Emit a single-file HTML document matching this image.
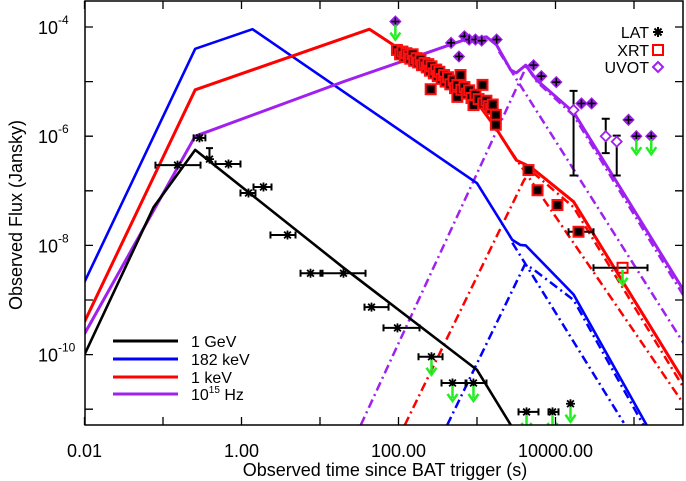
<!DOCTYPE html>
<html><head><meta charset="utf-8"><style>
html,body{margin:0;padding:0;background:#fff;}
svg{display:block;font-family:"Liberation Sans",sans-serif;}
</style></head><body>
<svg id="chart" width="686" height="481" viewBox="0 0 686 481" xmlns="http://www.w3.org/2000/svg">
<g id="plot"></g>
</svg>
<script>
// ---- data (log10 time, log10 flux) ----
const xTickVals = [-2, 0, 2, 4];
const xTickLabels = ["0.01", "1.00", "100.00", "10000.00"];
const yTickVals = [-4, -6, -8, -10];
const yTickLabels = ["-4", "-6", "-8", "-10"];

const curveBlack = [[-2,-10],[-1.12,-7.30],[-0.59,-6.25],[1.30,-8.41],[3.0,-10.28],[3.43,-11.29]];
const curveBlue = [[-2,-8.67],[-0.59,-4.40],[0.14,-4.04],[3.0,-6.86],[3.45,-7.90],[3.55,-7.99],[3.62,-8.0],[4.23,-8.9],[5.16,-11.29]];
const curveRed = [[-2,-9.40],[-0.59,-5.15],[1.63,-4.04],[2.03,-4.42],[2.54,-4.88],[2.98,-5.34],[3.24,-5.85],[3.50,-6.44],[3.68,-6.56],[4.23,-7.2],[5.63,-10.47]];
const curvePurple = [[-2,-9.62],[-0.59,-6.0],[1.30,-5.0],[2.83,-4.24],[3.12,-4.18],[3.25,-4.33],[3.43,-4.79],[3.50,-4.84],[3.62,-4.70],[3.76,-4.97],[4.23,-5.56],[5.63,-8.82]];

const ddPurple1 = [[3.28,-4.45],[5.63,-9.79]];
const ddPurple2 = [[1.52,-11.29],[3.63,-4.72],[3.76,-5.0],[4.23,-5.62],[5.63,-8.92]];
const ddRed1 = [[3.30,-6.0],[5.63,-10.9]];
const ddRed2 = [[2.08,-11.29],[3.60,-6.80],[3.70,-6.65],[4.23,-7.3],[5.63,-10.6]];
const ddBlue1 = [[3.45,-7.95],[4.87,-11.25]];
const ddBlue2 = [[2.62,-11.29],[3.61,-8.35],[3.70,-8.42],[4.23,-9.0],[5.12,-11.29]];

const latT = [-0.535,-0.815,-0.408,-0.166,0.089,0.280,0.586,0.879,1.299,1.656,1.987,2.420,2.688,2.955,3.631,3.962,4.191];
const latF = [-6.03,-6.53,-6.42,-6.51,-7.04,-6.93,-7.81,-8.51,-8.51,-9.13,-9.51,-10.04,-10.52,-10.52,-11.05,-11.05,-10.90];
const latLo = [-0.61,-1.096,-0.408,-0.331,-0.013,0.153,0.369,0.752,1.006,1.567,1.809,2.255,2.548,2.854,3.529,3.911,4.191];
const latHi = [-0.46,-0.522,-0.408,-0.013,0.178,0.382,0.688,1.032,1.580,1.873,2.268,2.561,2.866,3.121,3.783,4.038,4.191];
const latUL = [0,0,0,0,0,0,0,0,0,0,0,1,1,1,1,1,1];

const xrtT = [1.98,2.02,2.05,2.08,2.10,2.13,2.15,2.18,2.20,2.23,2.25,2.28,2.30,2.33,2.36,2.38,2.40,2.41,2.42,2.45,2.48,2.50,2.52,2.55,2.58,2.60,2.63,2.66,2.70,2.72,2.75,2.75,2.79,2.80,2.84,2.87,2.90,2.93,2.955,2.98,3.02,3.07,3.08,3.12,3.15,3.18,3.20,3.24,3.24,3.656,3.771,4.025,4.293,4.854];
const xrtF = [-4.42,-4.50,-4.45,-4.55,-4.48,-4.52,-4.58,-4.50,-4.62,-4.57,-4.65,-4.60,-4.70,-4.66,-4.74,-4.68,-4.80,-5.14,-4.72,-4.85,-4.78,-4.90,-4.82,-4.95,-4.88,-5.00,-4.92,-5.05,-4.98,-5.12,-5.06,-5.28,-4.88,-5.15,-5.10,-5.22,-5.16,-5.30,-5.43,-5.24,-5.32,-5.06,-5.40,-5.35,-5.45,-5.50,-5.42,-5.61,-5.79,-6.62,-6.99,-7.26,-7.75,-8.41];
const xrtUL = [0,0,0,0,0,0,0,0,0,0,0,0,0,0,0,0,0,0,0,0,0,0,0,0,0,0,0,0,0,0,0,0,0,0,0,0,0,0,0,0,0,0,0,0,0,0,0,0,0,0,0,0,0,1];
const xrtLo = {52:4.166, 53:4.484};
const xrtHi = {52:4.484, 53:5.172};

const uvotT = [1.96,2.67,2.77,2.84,2.90,2.98,3.06,3.25,3.72,3.82,4.01,4.23,4.33,4.46,4.64,4.78,4.93,5.03,5.22];
const uvotF = [-3.90,-4.29,-4.54,-4.17,-4.23,-4.23,-4.25,-4.23,-4.70,-4.90,-5.01,-5.52,-5.40,-5.40,-6.0,-6.10,-5.70,-6.0,-6.0];
const uvotErrLo = [null,null,null,null,null,null,null,null,null,null,null,-6.72,null,null,-6.31,-6.72,null,null,null];
const uvotErrHi = [null,null,null,null,null,null,null,null,null,null,null,-5.17,null,null,-5.68,-5.99,null,null,null];
const uvotHollow = [0,0,0,0,0,0,0,0,0,0,0,1,0,0,1,1,0,0,0];
const uvotUL = [1,0,0,0,0,0,0,0,0,0,0,0,0,0,0,0,0,1,1];

// ---- axes ----
const X0 = 85, X1 = 683, Y0 = 1, Y1 = 425;
const sx = lx => 84.5 + (lx + 2) * 78.5;
const sy = ly => 27 + (-4 - ly) * 54.6;

const NS = "http://www.w3.org/2000/svg";
const plot = document.getElementById('plot');
function mk(tag, attrs, parent) {
  const e = document.createElementNS(NS, tag);
  for (const k in attrs) e.setAttribute(k, attrs[k]);
  (parent || plot).appendChild(e);
  return e;
}

const defs = mk('defs', {});
const cp = mk('clipPath', {id: 'clip'}, defs);
mk('rect', {x: X0, y: Y0, width: X1 - X0, height: Y1 - Y0}, cp);
const inner = mk('g', {'clip-path': 'url(#clip)'});



function line(pts, color, w, dash, name) {
  const d = pts.map((p, i) => (i ? 'L' : 'M') + sx(p[0]).toFixed(1) + ' ' + sy(p[1]).toFixed(1)).join(' ');
  const e = mk('path', {d: d, fill: 'none', stroke: color, 'stroke-width': w, 'stroke-linejoin': 'round'}, inner);
  if (dash) e.setAttribute('stroke-dasharray', dash);
  
  
}
const DD = '9,4,2,4';
line(ddPurple1, '#a020f0', 2.5, DD, 'purple-dashdot-1');
line(ddPurple2, '#a020f0', 2.5, DD, 'purple-dashdot-2');
line(ddRed1, '#ff0000', 2.5, DD, 'red-dashdot-1');
line(ddRed2, '#ff0000', 2.5, DD, 'red-dashdot-2');
line(ddBlue1, '#0000ff', 2.5, DD, 'blue-dashdot-1');
line(ddBlue2, '#0000ff', 2.5, DD, 'blue-dashdot-2');
line(curveBlue, '#0000ff', 2.6, null, 'curve-182kev');
line(curveRed, '#ff0000', 3, null, 'curve-1kev');
line(curvePurple, '#a020f0', 3, null, 'curve-1e15hz');
line(curveBlack, '#000000', 2.6, null, 'curve-1gev');

function arrow(x, y, name) {
  const g = mk('g', {}, inner);
  
  
  mk('line', {x1: x, y1: y, x2: x, y2: y + 12, stroke: '#22ee22', 'stroke-width': 2.5}, g);
  mk('path', {d: `M${x-5} ${y+8} L${x} ${y+15} L${x+5} ${y+8}`, fill: 'none', stroke: '#22ee22', 'stroke-width': 2.5}, g);
}
function star(x, y, g, s) {
  s = s || 4.5;
  mk('path', {d: `M${x-s} ${y}H${x+s}M${x} ${y-s}V${y+s}M${x-s*0.75} ${y-s*0.75}L${x+s*0.75} ${y+s*0.75}M${x-s*0.75} ${y+s*0.75}L${x+s*0.75} ${y-s*0.75}`, stroke: '#000', 'stroke-width': 1.8}, g);
}
function xerr(x1, x2, y, g) {
  mk('path', {d: `M${x1} ${y}H${x2}M${x1} ${y-3.5}V${y+3.5}M${x2} ${y-3.5}V${y+3.5}`, stroke: '#000', 'stroke-width': 2}, g);
}

for (let i = 0; i < xrtT.length; i++) {
  const x = sx(xrtT[i]), y = sy(xrtF[i]);
  const g = mk('g', {}, inner);
  
  
  if (xrtLo[i] !== undefined) xerr(sx(xrtLo[i]), sx(xrtHi[i]), y, g);
  if (xrtUL[i]) {
    mk('rect', {x: x - 5, y: y - 5, width: 10, height: 10, fill: 'none', stroke: '#ff0000', 'stroke-width': 2}, g);
    arrow(x, y + 2, 'xrt-upper-limit-arrow');
  } else {
    mk('rect', {x: x - 5, y: y - 5, width: 10, height: 10, fill: '#300', stroke: '#ff1010', 'stroke-width': 2}, g);
    star(x, y, g, 3);
  }
}
for (let i = 0; i < latT.length; i++) {
  const x = sx(latT[i]), y = sy(latF[i]);
  const g = mk('g', {}, inner);
  
  
  if (latHi[i] - latLo[i] > 0.01) xerr(sx(latLo[i]), sx(latHi[i]), y, g);
  if (i === 2) mk('path', {d: `M${x} ${y}V${y-11}M${x-3.5} ${y-11}H${x+3.5}`, stroke: '#000', 'stroke-width': 2}, g);
  star(x, y, g);
  if (latUL[i]) arrow(x, y + 3, 'lat-upper-limit-arrow');
}
for (let i = 0; i < uvotT.length; i++) {
  const x = sx(uvotT[i]), y = sy(uvotF[i]);
  const g = mk('g', {}, inner);
  
  
  if (uvotErrLo[i] !== null) {
    const a = sy(uvotErrHi[i]), b = sy(uvotErrLo[i]);
    mk('path', {d: `M${x} ${a}V${b}M${x-4} ${a}H${x+4}M${x-4} ${b}H${x+4}`, stroke: '#000', 'stroke-width': 2}, g);
  }
  mk('path', {d: `M${x} ${y-5}L${x+5} ${y}L${x} ${y+5}L${x-5} ${y}Z`, fill: uvotHollow[i] ? '#fff' : '#9a30d0', stroke: '#a020f0', 'stroke-width': 1.8}, g);
  if (!uvotHollow[i]) mk('path', {d: `M${x-4} ${y}H${x+4}M${x} ${y-4}V${y+4}`, stroke: '#000', 'stroke-width': 1.6}, g);
  if (uvotUL[i]) arrow(x, y + 3, 'uvot-upper-limit-arrow');
}

const frame = mk('rect', {x: X0, y: Y0, width: X1 - X0, height: Y1 - Y0, fill: 'none', stroke: '#000', 'stroke-width': 1.5});



for (let d = -2; d <= 5; d++) {
  const x = sx(d);
  const t = mk('path', {d: `M${x} ${Y1}V${Y1-8}M${x} ${Y0}V${Y0+8}`, stroke: '#000', 'stroke-width': 1.3});
  
  
}
xTickVals.forEach((v, i) => {
  const t = mk('text', {x: sx(v), y: 457, 'text-anchor': 'middle', 'font-size': 18, fill: '#000'});
  t.textContent = xTickLabels[i];
  
  
});
for (let d = -4; d >= -11; d--) {
  const y = sy(d);
  const t = mk('path', {d: `M${X0} ${y}H${X0+8}M${X1} ${y}H${X1-8}`, stroke: '#000', 'stroke-width': 1.3});
  
  
}
yTickVals.forEach((v, i) => {
  const t = mk('text', {x: 58, y: sy(v) + 7, 'text-anchor': 'end', 'font-size': 18, fill: '#000'});
  t.textContent = '10';
  
  
  const s = mk('text', {x: 58, y: sy(v) - 3, 'font-size': 12, fill: '#000'});
  s.textContent = yTickLabels[i];
  
  
});
</script>
<svg style="position:absolute;left:0;top:0" width="686" height="481">
  <text x="385" y="476" text-anchor="middle" font-size="18" font-family="Liberation Sans, sans-serif">Observed time since BAT trigger (s)</text>
  <text transform="translate(22,215) rotate(-90)" text-anchor="middle" font-size="18" font-family="Liberation Sans, sans-serif">Observed Flux (Jansky)</text>
  <g font-family="Liberation Sans, sans-serif" font-size="16">
    <g><line x1="113" y1="341" x2="178" y2="341" stroke="#000" stroke-width="3"/><text x="191" y="347">1  GeV</text></g>
    <g><line x1="113" y1="359" x2="178" y2="359" stroke="#0000ff" stroke-width="3"/><text x="191" y="365">182  keV</text></g>
    <g><line x1="113" y1="377" x2="178" y2="377" stroke="#ff0000" stroke-width="3"/><text x="191" y="383">1  keV</text></g>
    <g><line x1="113" y1="394" x2="178" y2="394" stroke="#a020f0" stroke-width="3"/><text x="191" y="400">10<tspan font-size="10" dy="-7">15</tspan><tspan dy="7"> Hz</tspan></text></g>
  </g>
  <g font-family="Liberation Sans, sans-serif" font-size="16">
    <g><text x="649" y="38" text-anchor="end">LAT</text><path d="M653 32H663M658 27V37M654.5 28.5L661.5 35.5M654.5 35.5L661.5 28.5" stroke="#000" stroke-width="2"/></g>
    <g><text x="649" y="56" text-anchor="end">XRT</text><rect x="653" y="45" width="10" height="10" fill="none" stroke="#ff0000" stroke-width="2"/></g>
    <g><text x="649" y="73" text-anchor="end">UVOT</text><path d="M658 62L663 67L658 72L653 67Z" fill="none" stroke="#a020f0" stroke-width="2"/></g>
  </g>
</svg>
</body></html>
